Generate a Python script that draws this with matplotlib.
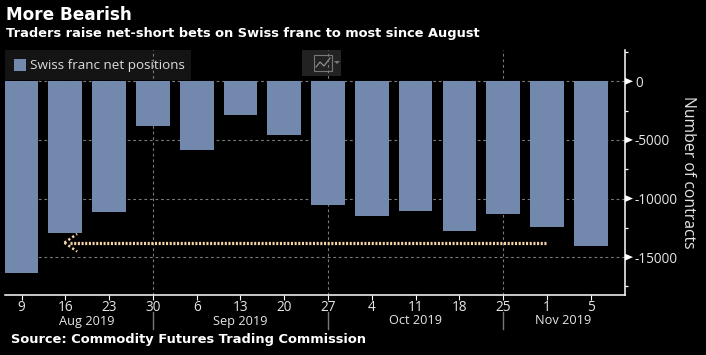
#!/usr/bin/env python3

'''Swiss franc net positions, bar chart on black
'''

import matplotlib
matplotlib.use('Agg')
import matplotlib.pyplot as plt
from matplotlib.patches import Rectangle, Polygon

day_labels = ['9', '16', '23', '30', '6', '13', '20', '27', '4', '11', '18', '25', '1', '5']
net_positions = [-16390, -12900, -11130, -3800, -5850, -2870, -4570,
                 -10540, -11470, -11050, -12750, -11300, -12470, -14090]
y_major = [0, -5000, -10000, -15000]
y_minor = [2500, -2500, -7500, -12500, -17500]
month_labels = ['Aug 2019', 'Sep 2019', 'Oct 2019', 'Nov 2019']
month_centers = [1.5, 5, 9, 12.37]
month_breaks = [3, 7, 11]
arrow_level = -13770
arrow_start = 1.1
arrow_end = 12.0

BAR = '#7289ad'
GREY = '#7a7a7a'
TAN = '#f6d5a6'
LABEL_FONT = 'Open Sans'
W, H = 706, 355

fig = plt.figure(figsize=(W / 100, H / 100), dpi=100, facecolor='black')
ax = fig.add_axes([5 / W, 1 - 295 / H, 619.5 / W, 245 / H], facecolor='none')

x = list(range(len(net_positions)))
ax.bar(x, net_positions, width=0.77, color=BAR, zorder=3)

ax.set_xlim(-0.377, 13.77)
ax.set_ylim(-18230, 2670)

# grid, hidden behind the bars
for v in y_major:
    ax.axhline(v, color=GREY, lw=0.8, dashes=(2.5, 2.5), zorder=1)
for v in month_breaks:
    ax.axvline(v, color=GREY, lw=0.8, dashes=(2.5, 2.5), zorder=1)

for side in ['top', 'left']:
    ax.spines[side].set_visible(False)
for side in ['bottom', 'right']:
    ax.spines[side].set_color('white')
    ax.spines[side].set_linewidth(1.1)

ax.set_xticks(x)
ax.set_xticklabels(day_labels, fontsize=9.8, color='#e6e6e6', family=LABEL_FONT)
ax.tick_params(axis='x', length=3.5, width=0.8, color='white', pad=0)

ax.yaxis.tick_right()
ax.set_yticks(y_major)
ax.set_yticklabels(['0'] + ['-%d' % -v for v in y_major[1:]],
                   fontsize=9.8, color='#e6e6e6', family=LABEL_FONT)
ax.set_yticks(y_minor, minor=True)
ax.tick_params(axis='y', which='major', length=0, pad=7.5)
ax.tick_params(axis='y', which='minor', length=2.5, width=0.9, color='white')

# white arrowheads on the major ticks
for v in y_major:
    px = ax.transData.transform((0, v))[1]
    ax.add_patch(Polygon([(625, px + 3.5), (625, px - 3.5), (633, px)], closed=True,
                         transform=None, facecolor='white', edgecolor='none',
                         clip_on=False, zorder=6))

fig.text(688 / W, 1 - 172 / H, 'Number of contracts', rotation=270, fontsize=11.3,
         color='#e6e6e6', family=LABEL_FONT, ha='center', va='center')

# month labels and separators under the axis
for label, c in zip(month_labels, month_centers):
    ax.annotate(label, (c, 0), xycoords=ax.get_xaxis_transform(), xytext=(0, -26),
                textcoords='offset pixels', fontsize=9.2, color='#e6e6e6',
                family=LABEL_FONT, ha='center', va='center')
for v in month_breaks:
    px = ax.transData.transform((v, 0))[0]
    fig.add_artist(plt.Line2D([px / W, px / W], [1 - 312 / H, 1 - 329 / H],
                              color='#777777', lw=1))

# dotted arrow pointing back to August
ax.plot([arrow_start, arrow_end], [arrow_level, arrow_level], color=TAN, lw=2.3,
        dashes=(0.65, 0.5), zorder=4)
ax.plot([arrow_start - 0.12, arrow_start + 0.17], [arrow_level, arrow_level + 750],
        color=TAN, lw=1.8, dashes=(0.9, 1.0), zorder=4)
ax.plot([arrow_start - 0.12, arrow_start + 0.17], [arrow_level, arrow_level - 750],
        color=TAN, lw=1.8, dashes=(0.9, 1.0), zorder=4)

# legend box and chart type button, under the grid
fig.add_artist(Rectangle((5 / W, 1 - 80 / H), 186 / W, 30 / H, transform=fig.transFigure,
                         facecolor='#141414', edgecolor='none', zorder=-2))
fig.add_artist(Rectangle((14 / W, 1 - 71 / H), 12 / W, 12 / H, transform=fig.transFigure,
                         facecolor=BAR, edgecolor='none', zorder=3))
fig.text(30 / W, 1 - 66 / H, 'Swiss franc net positions', fontsize=9.7, color='#dcdcdc',
         family=LABEL_FONT, va='center', zorder=3)
fig.add_artist(Rectangle((302 / W, 1 - 76 / H), 39 / W, 26 / H, transform=fig.transFigure,
                         facecolor='#222222', edgecolor='none', zorder=-2))
fig.add_artist(Rectangle((314 / W, 1 - 71 / H), 18 / W, 16 / H, transform=fig.transFigure,
                         facecolor='none', edgecolor='#777777', lw=0.8, zorder=-1))
fig.add_artist(plt.Line2D([316 / W, 320 / W, 324 / W, 330 / W],
                          [1 - 67 / H, 1 - 62 / H, 1 - 66 / H, 1 - 58 / H],
                          color='#999999', lw=0.8, zorder=-1))
fig.add_artist(Polygon([(334 / W, 1 - 61 / H), (340 / W, 1 - 61 / H), (337 / W, 1 - 64 / H)],
                       closed=True, transform=fig.transFigure, facecolor='#777777',
                       edgecolor='none', zorder=-1))

# titles
fig.text(6 / W, 1 - 15 / H, 'More Bearish', fontsize=12.2, fontweight='bold', color='white',
         family='DejaVu Sans', va='center')
fig.text(6 / W, 1 - 34 / H, 'Traders raise net-short bets on Swiss franc to most since August',
         fontsize=9.4, fontweight='bold', color='white', family='DejaVu Sans', va='center')
fig.text(11 / W, 1 - 340 / H, 'Source: Commodity Futures Trading Commission', fontsize=9.35,
         fontweight='bold', color='white', family='DejaVu Sans', va='center')

fig.savefig('out.png', dpi=100, facecolor='black')
